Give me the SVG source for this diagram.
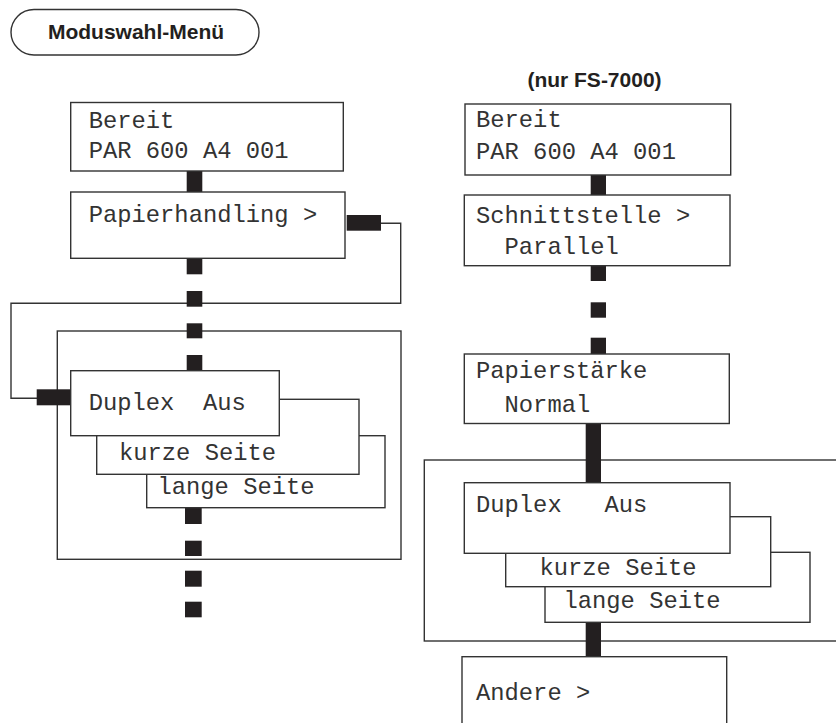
<svg xmlns="http://www.w3.org/2000/svg" width="836" height="723" viewBox="0 0 836 723">
<style>
.box{fill:#fff;stroke:#333;stroke-width:1.4}
.frame{fill:none;stroke:#333;stroke-width:1.4}
.mono{font-family:"Liberation Mono","Courier New",monospace;font-size:23.8px;fill:#333}
.head{font-family:"Liberation Sans",Arial,sans-serif;font-weight:bold;font-size:21px;fill:#231f20;text-anchor:middle}
.bar{fill:#231f20}
.line{fill:none;stroke:#333;stroke-width:1.4}
</style>
<rect width="836" height="723" fill="#fff"/>

<g id="title">
<rect class="box" x="11" y="9.5" width="248" height="45.5" rx="23" ry="23"/>
<text class="head" x="136" y="39">Moduswahl-Menü</text>
</g>
<g id="note">
<text class="head" x="594.5" y="86.5">(nur FS-7000)</text>
</g>

<!-- frames -->
<g id="frameL"><rect class="frame" x="57.3" y="331" width="343.7" height="228.3"/></g>
<g id="frameR"><rect class="frame" x="424.3" y="460" width="430" height="181"/></g>

<g id="connectors">
<polyline class="line" points="381,223.3 400.7,223.3 400.7,303.3 11,303.3 11,398.3 37,398.3"/>
<rect class="bar" x="186.7" y="171" width="15.6" height="21"/>
<rect class="bar" x="186.7" y="258" width="15.6" height="16.3"/>
<rect class="bar" x="186.7" y="291" width="15.6" height="15.7"/>
<rect class="bar" x="186.7" y="323.3" width="15.6" height="15"/>
<rect class="bar" x="186.7" y="355" width="15.6" height="15.7"/>
<rect class="bar" x="185" y="508" width="16.7" height="16"/>
<rect class="bar" x="185" y="540.7" width="16.7" height="15.3"/>
<rect class="bar" x="185" y="570.7" width="16.7" height="16"/>
<rect class="bar" x="185" y="601.7" width="16.7" height="15.6"/>
<rect class="bar" x="346.7" y="215" width="34.3" height="15.7"/>
<rect class="bar" x="36.7" y="389.3" width="34" height="16"/>
<rect class="bar" x="590.7" y="175" width="15.3" height="20"/>
<rect class="bar" x="590.7" y="265.7" width="15.3" height="15.3"/>
<rect class="bar" x="590.7" y="302.3" width="15.3" height="15.4"/>
<rect class="bar" x="590.7" y="337.7" width="15.3" height="16.3"/>
<rect class="bar" x="585.7" y="423.5" width="15.3" height="59.2"/>
<rect class="bar" x="585.7" y="622" width="15.3" height="34.7"/>
</g>

<!-- left column -->
<g id="L-bereit">
<rect class="box" x="70.7" y="102.5" width="272.6" height="68.5"/>
<text class="mono" x="88.7" y="128">Bereit</text>
<text class="mono" x="88.7" y="158">PAR 600 A4 001</text>
</g>
<g id="L-papierhandling">
<rect class="box" x="70.7" y="192" width="274.3" height="66.3"/>
<text class="mono" x="88.7" y="222" xml:space="preserve">Papierhandling &gt;</text>
</g>
<g id="L-lange">
<rect class="box" x="146.7" y="435.7" width="238.3" height="72"/>
<text class="mono" x="157.5" y="493.5">lange Seite</text>
</g>
<g id="L-kurze">
<rect class="box" x="96.7" y="399.3" width="262.3" height="75"/>
<text class="mono" x="119" y="459.5">kurze Seite</text>
</g>
<g id="L-duplex">
<rect class="box" x="70.7" y="370.7" width="208.6" height="65"/>
<text class="mono" x="88.7" y="410" xml:space="preserve">Duplex  Aus</text>
</g>

<!-- right column -->
<g id="R-bereit">
<rect class="box" x="465" y="104" width="265.7" height="71"/>
<text class="mono" x="476" y="127">Bereit</text>
<text class="mono" x="476" y="159">PAR 600 A4 001</text>
</g>
<g id="R-schnittstelle">
<rect class="box" x="464.3" y="195" width="265.7" height="70.7"/>
<text class="mono" x="476" y="223.3" xml:space="preserve">Schnittstelle &gt;</text>
<text class="mono" x="476" y="254" xml:space="preserve">  Parallel</text>
</g>
<g id="R-papierstaerke">
<rect class="box" x="464.3" y="354" width="265" height="69.5"/>
<text class="mono" x="476" y="378.3">Papierstärke</text>
<text class="mono" x="476" y="411.7" xml:space="preserve">  Normal</text>
</g>
<g id="R-lange">
<rect class="box" x="545" y="552.3" width="265" height="70"/>
<text class="mono" x="563.5" y="607.7">lange Seite</text>
</g>
<g id="R-kurze">
<rect class="box" x="505.7" y="516.7" width="265" height="70"/>
<text class="mono" x="539.5" y="575">kurze Seite</text>
</g>
<g id="R-duplex">
<rect class="box" x="464.3" y="482.7" width="265.7" height="70.6"/>
<text class="mono" x="476" y="511.7" xml:space="preserve">Duplex   Aus</text>
</g>
<g id="R-andere">
<rect class="box" x="462" y="656.7" width="264.7" height="80"/>
<text class="mono" x="476" y="700" xml:space="preserve">Andere &gt;</text>
</g>
</svg>
